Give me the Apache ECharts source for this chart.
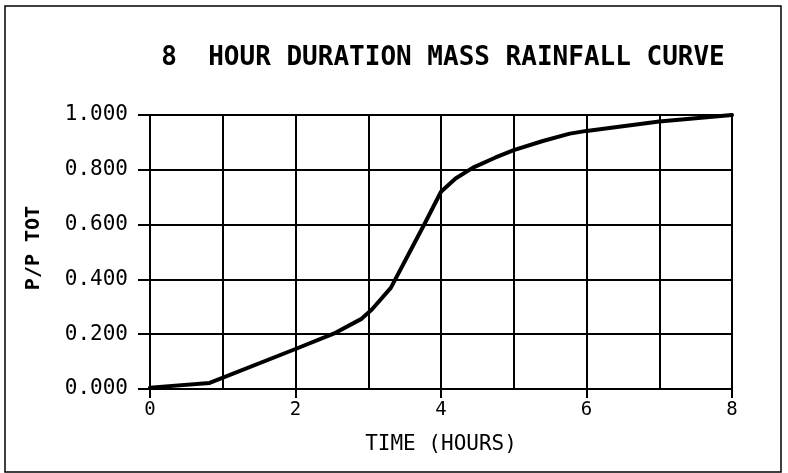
<!DOCTYPE html>
<html>
<head>
<meta charset="utf-8">
<script src="https://cdn.jsdelivr.net/npm/echarts@6/dist/echarts.min.js"></script>
<style>
  html, body { margin: 0; padding: 0; background: #fff; }
  #chart { width: 788px; height: 473px; }
</style>
</head>
<body>
<div id="chart"></div>
<script>
// Mass rainfall curve: cumulative fraction of total rainfall vs. time
const timeHours = [0, 0.82, 2.0, 2.55, 2.9, 3.05, 3.31, 3.55, 3.78, 4.0, 4.2, 4.44, 4.75, 5.0, 5.4, 5.77, 6.0, 7.0, 8.0];
const ratioPTot = [0.005, 0.022, 0.146, 0.205, 0.255, 0.29, 0.369, 0.49, 0.606, 0.72, 0.768, 0.808, 0.845, 0.872, 0.905, 0.932, 0.942, 0.976, 1.0];
const yTicks = [0, 0.2, 0.4, 0.6, 0.8, 1.0];
const xTickLabels = ['0', '2', '4', '6', '8'];

const titleText = '8  HOUR DURATION MASS RAINFALL CURVE';
const yName = 'P/P TOT';
const xName = 'TIME (HOURS)';

const FONT = '"DejaVu Sans Mono", "Liberation Mono", monospace';
const INK = '#000';

const chart = echarts.init(document.getElementById('chart'), null, { renderer: 'canvas' });

const points = timeHours.map((t, i) => [t, ratioPTot[i]]);

chart.setOption({
  backgroundColor: '#fff',
  animation: false,
  grid: { left: 150, right: 56, top: 115, bottom: 84 },
  xAxis: [
    {
      // hourly grid lines
      type: 'value', min: 0, max: 8, interval: 1,
      axisLine: { show: false },
      axisTick: { show: false },
      axisLabel: { show: false },
      splitLine: { show: true, lineStyle: { color: INK, width: 2 } }
    },
    {
      // labelled ticks every two hours
      type: 'value', min: 0, max: 8, interval: 2, position: 'bottom',
      axisLine: { show: true, onZero: false, lineStyle: { color: INK, width: 2 } },
      axisTick: { show: true, inside: false, length: 9, lineStyle: { color: INK, width: 2 } },
      axisLabel: {
        show: true, margin: 12, color: INK, fontFamily: FONT, fontSize: 19,
        formatter: v => xTickLabels[Math.round(v / 2)]
      },
      splitLine: { show: false }
    }
  ],
  yAxis: {
    type: 'value', min: yTicks[0], max: yTicks[yTicks.length - 1], interval: 0.2,
    axisLine: { show: true, lineStyle: { color: INK, width: 2 } },
    axisTick: { show: true, inside: false, length: 12, lineStyle: { color: INK, width: 2 } },
    axisLabel: {
      margin: 22, color: INK, fontFamily: FONT, fontSize: 21,
      formatter: v => v.toFixed(3)
    },
    splitLine: { show: true, lineStyle: { color: INK, width: 2 } }
  },
  series: [{
    type: 'line',
    xAxisIndex: 0,
    data: points,
    showSymbol: false,
    smooth: false,
    lineStyle: { color: INK, width: 4, join: 'round', cap: 'round' },
    z: 5
  }],
  graphic: [
    {
      type: 'rect', silent: true, z: -1,
      shape: { x: 5, y: 6, width: 776, height: 466 },
      style: { fill: 'none', stroke: INK, lineWidth: 1.5 }
    },
    {
      type: 'rect', silent: true,
      shape: { x: 732, y: 115, width: 0, height: 274 },
      style: { fill: 'none', stroke: INK, lineWidth: 2 }
    },
    {
      type: 'rect', silent: true,
      shape: { x: 150, y: 115, width: 582, height: 0 },
      style: { fill: 'none', stroke: INK, lineWidth: 2 }
    },
    {
      type: 'text', silent: true,
      x: 443, y: 58,
      style: {
        text: titleText, fill: INK, fontFamily: FONT, fontWeight: 'bold', fontSize: 26,
        textAlign: 'center', textVerticalAlign: 'middle'
      }
    },
    {
      type: 'text', silent: true,
      x: 34, y: 248, rotation: Math.PI / 2,
      style: {
        text: yName, fill: INK, fontFamily: FONT, fontWeight: 'bold', fontSize: 20,
        textAlign: 'center', textVerticalAlign: 'middle'
      }
    },
    {
      type: 'text', silent: true,
      x: 441, y: 445,
      style: {
        text: xName, fill: INK, fontFamily: FONT, fontSize: 21,
        textAlign: 'center', textVerticalAlign: 'middle'
      }
    }
  ]
});
</script>
</body>
</html>
